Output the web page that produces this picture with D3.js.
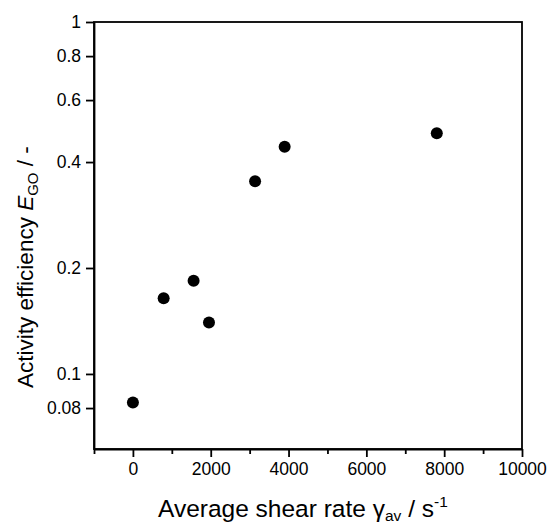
<!DOCTYPE html>
<html lang="en">
<head>
  <meta charset="UTF-8">
  <script src="https://cdn.jsdelivr.net/npm/d3@7/dist/d3.min.js"></script>
  <title>Activity efficiency</title>
  <style>
    body { margin: 0; background: white; }
    text { font-family: "Liberation Sans", Arial, sans-serif; fill: black; }
    .axis path, .axis line { stroke: black; stroke-width: 1.8; }
  </style>
</head>
<body>
  <script>
    // data
    const shearRate = [0, 790, 1560, 1955, 3140, 3900, 7810];
    const efficiency = [0.083, 0.164, 0.184, 0.140, 0.353, 0.442, 0.483];

    const xTicks = [0, 2000, 4000, 6000, 8000, 10000];
    const xMinorTicks = [-1000, 1000, 3000, 5000, 7000, 9000];
    const yTicks = [0.08, 0.1, 0.2, 0.4, 0.6, 0.8, 1];
    const yTickLabels = ["0.08", "0.1", "0.2", "0.4", "0.6", "0.8", "1"];

    const W = 548, H = 525;
    const margin = { top: 22, right: 26, bottom: 76, left: 94 };

    const svg = d3.select('body').append('svg')
      .attr('width', W)
      .attr('height', H);

    const x = d3.scaleLinear().domain([-1000, 10000]).range([margin.left, W - margin.right]);
    const y = d3.scaleLog().domain([0.0612, 1]).range([H - margin.bottom, margin.top]);

    // minor x ticks
    svg.append('g').attr('class', 'axis')
      .attr('transform', `translate(0,${H - margin.bottom})`)
      .call(d3.axisBottom(x).tickValues(xMinorTicks).tickSize(5).tickFormat(''))
      .call(g => g.select('.domain').remove());

    // major x ticks
    svg.append('g').attr('class', 'axis')
      .attr('transform', `translate(0,${H - margin.bottom})`)
      .call(d3.axisBottom(x).tickValues(xTicks).tickSize(8).tickPadding(6).tickSizeOuter(0)
        .tickFormat(d3.format('d')))
      .call(g => g.selectAll('text').style('font-size', '17.5px'));

    svg.append('g').attr('class', 'axis')
      .attr('transform', `translate(${margin.left},0)`)
      .call(d3.axisLeft(y).tickValues(yTicks).tickSize(8).tickPadding(5).tickSizeOuter(0)
        .tickFormat((d, i) => yTickLabels[i]))
      .call(g => g.selectAll('text').style('font-size', '17.5px'));

    // frame
    svg.append('rect')
      .attr('x', margin.left).attr('y', margin.top)
      .attr('width', W - margin.left - margin.right)
      .attr('height', H - margin.top - margin.bottom)
      .attr('fill', 'none').attr('stroke', 'black').attr('stroke-width', 1.8);

    // points
    svg.selectAll('circle.pt')
      .data(shearRate).enter()
      .append('circle').attr('class', 'pt')
      .attr('cx', d => x(d))
      .attr('cy', (d, i) => y(efficiency[i]))
      .attr('r', 6)
      .attr('fill', 'black');

    // x title
    const xt = svg.append('text')
      .attr('x', 158).attr('y', 517)
      .style('font-size', '24.5px');
    xt.append('tspan').text('Average shear rate \u03b3');
    xt.append('tspan').attr('dy', 4).style('font-size', '15.5px').text('av');
    xt.append('tspan').attr('dy', -4).text(' / s');
    xt.append('tspan').attr('dy', -10).style('font-size', '15.5px').text('-1');

    // y title
    const yt = svg.append('text')
      .attr('transform', 'translate(33,388) rotate(-90)')
      .style('font-size', '22.5px');
    yt.append('tspan').text('Activity efficiency ');
    yt.append('tspan').style('font-style', 'italic').text('E');
    yt.append('tspan').attr('dy', 5).style('font-size', '15px').text('GO');
    yt.append('tspan').attr('dy', -5).text('  / -');
  </script>
</body>
</html>
